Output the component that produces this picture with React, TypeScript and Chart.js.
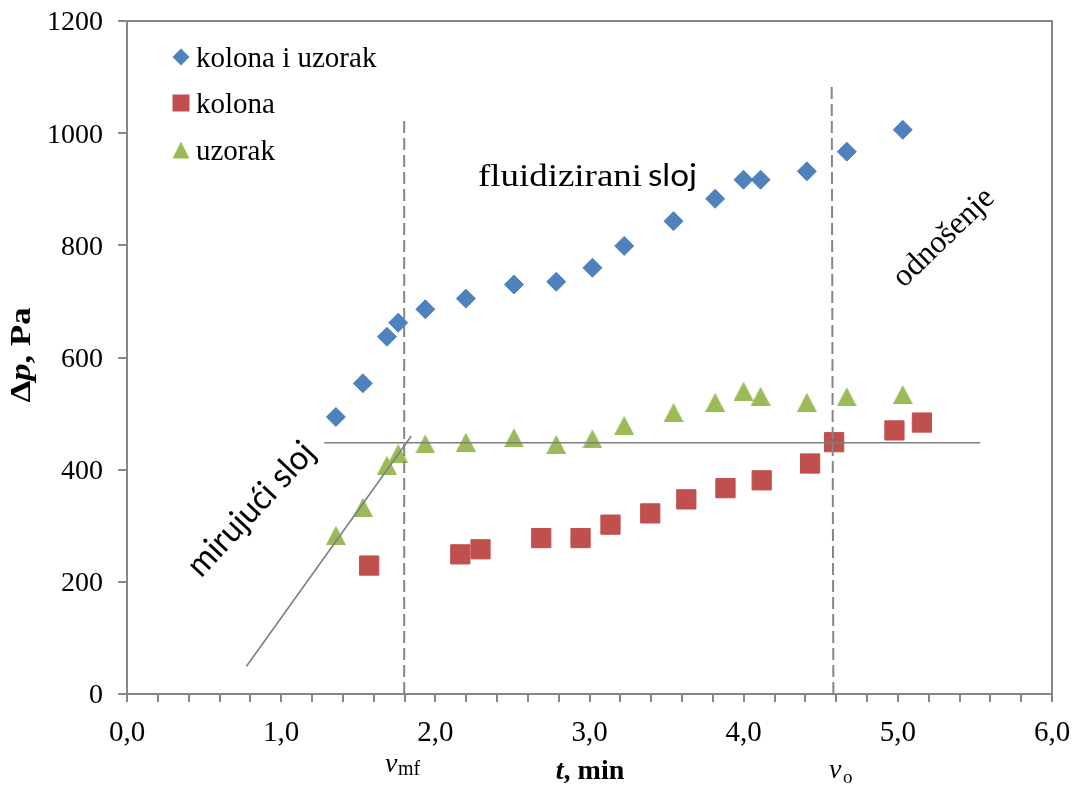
import React, { useEffect, useRef } from 'react';
import { Chart, registerables } from 'chart.js';

Chart.register(...registerables);

// ---- data ----
const kolonaIUzorakX = [1.355, 1.53, 1.686, 1.759, 1.935, 2.198, 2.51, 2.784, 3.019, 3.225, 3.545, 3.815, 3.999, 4.11, 4.41, 4.669, 5.032];
const kolonaIUzorakY = [494, 554, 637, 662, 686, 705, 730, 735, 760, 799, 843, 883, 917, 917, 932, 967, 1006];

const kolonaX = [1.571, 2.162, 2.293, 2.687, 2.942, 3.136, 3.394, 3.628, 3.882, 4.117, 4.431, 4.587, 4.978, 5.156];
const kolonaY = [229, 249, 258, 278, 278, 302, 322, 347, 367, 381, 411, 449, 470, 484];

const uzorakX = [1.355, 1.53, 1.686, 1.759, 1.935, 2.198, 2.51, 2.784, 3.019, 3.225, 3.545, 3.815, 3.999, 4.11, 4.41, 4.669, 5.032];
const uzorakY = [283, 333, 408, 429, 446, 449, 457, 445, 455, 479, 502, 520, 540, 531, 520, 530, 534];

// helper lines
const mirujuciLineX = [0.774, 1.844];
const mirujuciLineY = [49, 460];
const plateauLineX = [1.28, 5.535];
const plateauLineY = [448, 448];
const vmfLineX = [1.798, 1.798];
const vmfLineY = [0, 1024];
const voLineX = [4.582, 4.571];
const voLineY = [0, 1090];

const seriesLabels = ['kolona i uzorak', 'kolona', 'uzorak'];
const xMin = 0, xMax = 6, xStep = 0.2;
const yMin = 0, yMax = 1200, yStep = 200;

const BLUE = '#4F81BD';
const RED = '#C0504D';
const GREEN = '#9BBB59';
const AXIS = '#868686';
const SERIF = "'Liberation Serif', 'Times New Roman', serif";
const SANS = "Lato, 'Open Sans', sans-serif";

const pts = (xs: number[], ys: number[]) => xs.map((x, i) => ({ x, y: ys[i] }));

function makeTriangle(color: string, w: number, h: number) {
  const c = document.createElement('canvas');
  c.width = w;
  c.height = h;
  const g = c.getContext('2d')!;
  g.fillStyle = color;
  g.beginPath();
  g.moveTo(w / 2, 0);
  g.lineTo(w, h);
  g.lineTo(0, h);
  g.closePath();
  g.fill();
  return c;
}

function drawMarker(ctx: CanvasRenderingContext2D, kind: string, x: number, y: number, s: number, color: string) {
  ctx.save();
  ctx.fillStyle = color;
  ctx.beginPath();
  if (kind === 'diamond') {
    ctx.moveTo(x, y - s);
    ctx.lineTo(x + s, y);
    ctx.lineTo(x, y + s);
    ctx.lineTo(x - s, y);
  } else if (kind === 'square') {
    ctx.rect(x - s, y - s, 2 * s, 2 * s);
  } else {
    ctx.moveTo(x, y - s);
    ctx.lineTo(x + s, y + s);
    ctx.lineTo(x - s, y + s);
  }
  ctx.closePath();
  ctx.fill();
  ctx.restore();
}

type Part = { text: string; font: string };

function drawParts(ctx: CanvasRenderingContext2D, parts: Part[], cx: number, cy: number, angle: number, targetWidth: number | null, baseline: CanvasTextBaseline = 'middle') {
  ctx.save();
  let total = 0;
  const widths = parts.map((p) => {
    ctx.font = p.font;
    const w = ctx.measureText(p.text).width;
    total += w;
    return w;
  });
  const sx = targetWidth ? targetWidth / total : 1;
  ctx.translate(cx, cy);
  ctx.rotate(angle);
  ctx.scale(sx, 1);
  ctx.fillStyle = '#000';
  ctx.textBaseline = baseline;
  ctx.textAlign = 'left';
  let x = -total / 2;
  parts.forEach((p, i) => {
    ctx.font = p.font;
    ctx.fillText(p.text, x, 0);
    x += widths[i];
  });
  ctx.restore();
}

const decorPlugin = {
  id: 'decor',
  afterDatasetsDraw(chart: any) {
    const ctx: CanvasRenderingContext2D = chart.ctx;
    const a = chart.chartArea;
    // plot frame (top & right)
    ctx.save();
    ctx.strokeStyle = AXIS;
    ctx.lineWidth = 2;
    ctx.beginPath();
    ctx.moveTo(a.left, a.top);
    ctx.lineTo(a.right, a.top);
    ctx.lineTo(a.right, a.bottom);
    ctx.stroke();
    ctx.restore();

    // legend
    const kinds = ['diamond', 'square', 'triangle'];
    const colors = [BLUE, RED, GREEN];
    const markerY = [57, 103, 150];
    const textY = [67, 113, 160];
    chart.data.datasets
      .filter((d: any) => d.inLegend)
      .forEach((d: any, i: number) => {
        drawMarker(ctx, kinds[i], 181, markerY[i], 8.5, colors[i]);
        ctx.save();
        ctx.font = `29px ${SERIF}`;
        ctx.fillStyle = '#000';
        ctx.textBaseline = 'alphabetic';
        ctx.textAlign = 'left';
        ctx.fillText(d.label, 196, textY[i]);
        ctx.restore();
      });

    // region annotations
    drawParts(ctx, [{ text: 'fluidizirani', font: `32px ${SERIF}` }], 560, 186, 0, 164, 'alphabetic');
    drawParts(ctx, [{ text: 'sloj', font: `31px ${SANS}` }], 672.5, 186, 0, 49, 'alphabetic');
    drawParts(ctx, [{ text: 'mirujući sloj', font: `34px ${SANS}` }], 251, 509, (-47 * Math.PI) / 180, 170);
    drawParts(ctx, [{ text: 'odnošenje', font: `32px ${SERIF}` }], 944, 238, (-44 * Math.PI) / 180, 128);

    // axis titles
    drawParts(
      ctx,
      [
        { text: 'Δ', font: `bold 30px ${SERIF}` },
        { text: 'p', font: `italic bold 30px ${SERIF}` },
        { text: ', Pa', font: `bold 30px ${SERIF}` },
      ],
      22,
      355,
      -Math.PI / 2,
      95
    );
    drawParts(
      ctx,
      [
        { text: 't', font: `italic bold 28px ${SERIF}` },
        { text: ', min', font: `bold 28px ${SERIF}` },
      ],
      590,
      779,
      0,
      null,
      'alphabetic'
    );

    // v_mf and v_o
    ctx.save();
    ctx.fillStyle = '#000';
    ctx.textBaseline = 'alphabetic';
    ctx.textAlign = 'left';
    ctx.font = `italic 28px ${SERIF}`;
    ctx.fillText('v', 385, 772);
    ctx.font = `20px ${SERIF}`;
    ctx.fillText('mf', 398, 775);
    ctx.font = `italic 28px ${SERIF}`;
    ctx.fillText('v', 829, 778);
    ctx.font = `19px ${SERIF}`;
    ctx.fillText('o', 843, 783);
    ctx.restore();
  },
};

export default function App() {
  const ref = useRef<HTMLCanvasElement | null>(null);

  useEffect(() => {
    if (!ref.current) return;
    const tri = makeTriangle(GREEN, 20, 19);
    const lineBase = {
      showLine: true,
      pointRadius: 0,
      pointHoverRadius: 0,
      borderColor: '#7f7f7f',
      borderWidth: 1.6,
      fill: false,
      order: 0,
      inLegend: false,
    };
    const chart = new Chart(ref.current, {
      type: 'scatter',
      data: {
        datasets: [
          {
            label: seriesLabels[0],
            data: pts(kolonaIUzorakX, kolonaIUzorakY),
            pointStyle: 'rectRot',
            pointRadius: 9.5,
            backgroundColor: BLUE,
            borderColor: BLUE,
            borderWidth: 1,
            order: 2,
            inLegend: true,
          },
          {
            label: seriesLabels[1],
            data: pts(kolonaX, kolonaY),
            pointStyle: 'rect',
            pointRadius: 13.6,
            backgroundColor: RED,
            borderColor: RED,
            borderWidth: 1,
            order: 2,
            inLegend: true,
          },
          {
            label: seriesLabels[2],
            data: pts(uzorakX, uzorakY),
            pointStyle: tri,
            pointRadius: 10,
            backgroundColor: GREEN,
            borderColor: GREEN,
            order: 2,
            inLegend: true,
          },
          { ...lineBase, label: 'mirujući', data: pts(mirujuciLineX, mirujuciLineY) },
          { ...lineBase, label: 'plato', data: pts(plateauLineX, plateauLineY) },
          { ...lineBase, label: 'vmf', data: pts(vmfLineX, vmfLineY), borderColor: AXIS, borderWidth: 2, borderDash: [12, 5] },
          { ...lineBase, label: 'vo', data: pts(voLineX, voLineY), borderColor: AXIS, borderWidth: 2, borderDash: [12, 5] },
        ] as any,
      },
      options: {
        responsive: false,
        animation: false,
        devicePixelRatio: 1,
        events: [],
        layout: { padding: { top: 21, right: 26, left: 0, bottom: 0 } },
        plugins: { legend: { display: false }, tooltip: { enabled: false } },
        scales: {
          x: {
            type: 'linear',
            min: xMin,
            max: xMax,
            ticks: {
              stepSize: xStep,
              autoSkip: false,
              maxRotation: 0,
              minRotation: 0,
              padding: 7,
              color: '#000',
              font: { family: SERIF, size: 29, lineHeight: 1.66 },
              callback: (v: any) => {
                const r = Math.round(Number(v) * 1000) / 1000;
                return Number.isInteger(r) ? r.toFixed(1).replace('.', ',') : '';
              },
            },
            grid: { drawOnChartArea: false, drawTicks: true, tickLength: 8, color: AXIS, lineWidth: 2 },
            border: { display: true, color: AXIS, width: 2 },
            afterFit: (s: any) => {
              s.height = 93;
            },
          },
          y: {
            type: 'linear',
            min: yMin,
            max: yMax,
            ticks: {
              stepSize: yStep,
              padding: 15,
              labelOffset: 2,
              color: '#000',
              font: { family: SERIF, size: 28, lineHeight: 0.4 },
              callback: (v: any) => String(Math.round(Number(v))),
            },
            grid: { drawOnChartArea: false, drawTicks: true, tickLength: 9, color: AXIS, lineWidth: 2 },
            border: { display: true, color: AXIS, width: 2 },
            afterFit: (s: any) => {
              s.width = 127;
            },
          },
        },
      } as any,
      plugins: [decorPlugin],
    });
    return () => chart.destroy();
  }, []);

  return (
    <div style={{ position: 'absolute', left: 0, top: 0, width: 1078, height: 787, background: '#fff' }}>
      <canvas ref={ref} width={1078} height={787} style={{ display: 'block', width: 1078, height: 787 }} />
    </div>
  );
}
